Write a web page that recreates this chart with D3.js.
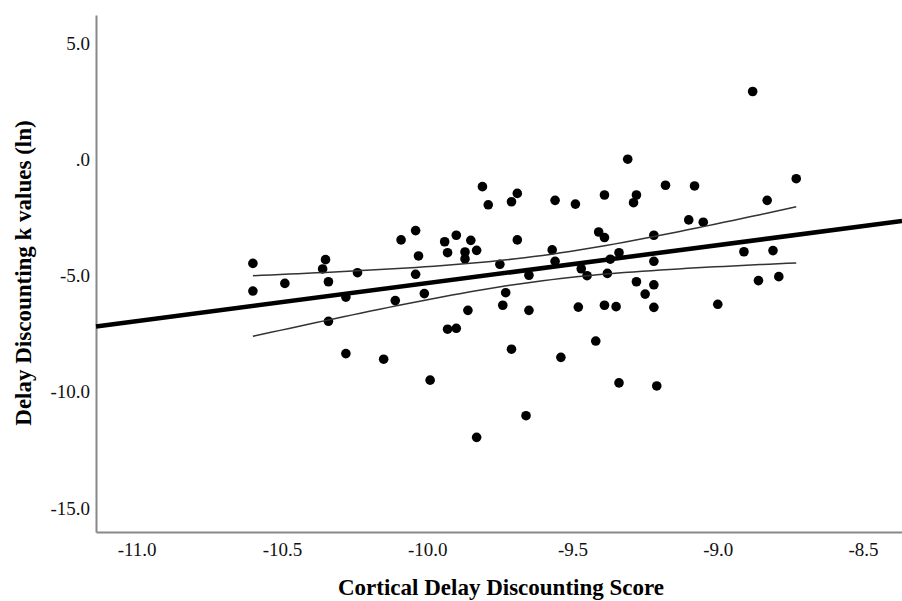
<!DOCTYPE html>
<html>
<head>
<meta charset="utf-8">
<script src="https://cdn.jsdelivr.net/npm/d3@7"></script>
<style>
  body { margin: 0; background: #fff; }
  svg { display: block; }
  .tick text { font-family: "Liberation Serif", "Times New Roman", serif; font-size: 19px; fill: #111; }
  .axis-title { font-family: "Liberation Serif", "Times New Roman", serif; font-size: 23px; font-weight: bold; fill: #000; }
</style>
</head>
<body>
<div id="chart"></div>
<script>
/* DATA */
const corticalScore = [
  -10.60, -10.60, -10.49, -10.35, -10.36, -10.34, -10.28, -10.24, -10.34, -10.28,
  -10.15, -10.09, -10.04, -10.03, -10.04, -10.11, -10.01, -9.99, -9.81, -9.79,
  -9.71, -9.69, -9.56, -9.94, -9.90, -9.93, -9.85, -9.87, -9.87, -9.83,
  -9.69, -9.75, -9.86, -9.93, -9.90, -9.73, -9.74, -9.65, -9.65, -9.71,
  -9.54, -9.66, -9.83, -9.57, -9.56, -9.49, -8.88, -9.31, -8.73, -9.18,
  -9.08, -9.39, -9.28, -9.29, -8.83, -9.10, -9.05, -9.41, -9.39, -9.22,
  -9.34, -9.37, -9.22, -9.47, -9.45, -9.38, -8.91, -8.81, -9.28, -9.22,
  -9.25, -8.86, -8.79, -9.48, -9.39, -9.35, -9.22, -9.00, -9.42, -9.34,
  -9.21
];
const kValues = [
  -4.48, -5.67, -5.34, -4.32, -4.72, -5.27, -5.93, -4.88, -6.97, -8.36,
  -8.60, -3.47, -3.07, -4.16, -4.95, -6.08, -5.78, -9.50, -1.18, -1.96,
  -1.83, -1.47, -1.77, -3.55, -3.27, -4.02, -3.49, -3.99, -4.29, -3.92,
  -3.47, -4.52, -6.50, -7.31, -7.27, -5.74, -6.28, -6.50, -4.99, -8.17,
  -8.52, -11.03, -11.96, -3.90, -4.39, -1.93, 2.91, 0.00, -0.84, -1.12,
  -1.15, -1.54, -1.54, -1.87, -1.77, -2.61, -2.71, -3.13, -3.37, -3.27,
  -4.02, -4.30, -4.39, -4.71, -5.01, -4.91, -3.98, -3.93, -5.27, -5.40,
  -5.80, -5.22, -5.05, -6.36, -6.28, -6.34, -6.37, -6.24, -7.82, -9.62,
  -9.75
];
const xTicks = [-11.0, -10.5, -10.0, -9.5, -9.0, -8.5];
const yTicks = [5, 0, -5, -10, -15];
const xDomain = [-11.14, -8.366];
const yDomain = [-16.03, 6.2];
const tCrit = 1.99; // 95% CI, df = n - 2

/* LAYOUT */
const width = 902, height = 601;
const margin = { top: 15, right: 0, bottom: 69, left: 96 };

const svg = d3.select("#chart").append("svg")
  .attr("width", width)
  .attr("height", height);

const xScale = d3.scaleLinear()
  .domain(xDomain)
  .range([margin.left, width - margin.right]);

const yScale = d3.scaleLinear()
  .domain(yDomain)
  .range([height - margin.bottom, margin.top]);

const points = corticalScore.map((x, i) => ({ x, y: kValues[i] }));

// linear fit + 95% confidence band for the mean
const n = points.length;
const xbar = d3.mean(points, d => d.x);
const ybar = d3.mean(points, d => d.y);
const sxx = d3.sum(points, d => (d.x - xbar) ** 2);
const sxy = d3.sum(points, d => (d.x - xbar) * (d.y - ybar));
const slope = sxy / sxx;
const intercept = ybar - slope * xbar;
const sse = d3.sum(points, d => (d.y - (intercept + slope * d.x)) ** 2);
const se = Math.sqrt(sse / (n - 2));
const fit = x => intercept + slope * x;
const band = x => tCrit * se * Math.sqrt(1 / n + (x - xbar) ** 2 / sxx);

// SPSS style labels: plain hyphen, ".0" for zero
const fmt = d => d === 0 ? ".0" : d.toFixed(1);

// AXES
const xAxis = d3.axisBottom(xScale)
  .tickValues(xTicks)
  .tickFormat(fmt)
  .tickSize(0)
  .tickPadding(11);

const yAxis = d3.axisLeft(yScale)
  .tickValues(yTicks)
  .tickFormat(fmt)
  .tickSize(0)
  .tickPadding(6);

svg.append("g")
  .attr("transform", `translate(0, ${height - margin.bottom})`)
  .call(xAxis)
  .call(g => g.select(".domain").attr("stroke", "#888").attr("stroke-width", 2));

svg.append("g")
  .attr("transform", `translate(${margin.left}, 0)`)
  .call(yAxis)
  .call(g => g.select(".domain").attr("stroke", "#888").attr("stroke-width", 2));

// axis titles
svg.append("text")
  .attr("class", "axis-title")
  .attr("text-anchor", "middle")
  .attr("x", 501)
  .attr("y", 595)
  .text("Cortical Delay Discounting Score");

svg.append("text")
  .attr("class", "axis-title")
  .attr("text-anchor", "middle")
  .attr("transform", `translate(31, 273) rotate(-90)`)
  .text("Delay Discounting k values (ln)");

// points
svg.append("g")
  .selectAll("circle")
  .data(points)
  .join("circle")
  .attr("cx", d => xScale(d.x))
  .attr("cy", d => yScale(d.y))
  .attr("r", 4.8)
  .attr("fill", "#000");

// CI curves span the data range only
const [xmin, xmax] = d3.extent(points, d => d.x);
const xs = d3.range(0, 61).map(i => xmin + (xmax - xmin) * i / 60);
const curve = d3.line()
  .x(d => xScale(d[0]))
  .y(d => yScale(d[1]));

svg.append("path")
  .attr("d", curve(xs.map(x => [x, fit(x) + band(x)])))
  .attr("fill", "none")
  .attr("stroke", "#333")
  .attr("stroke-width", 1.5);

svg.append("path")
  .attr("d", curve(xs.map(x => [x, fit(x) - band(x)])))
  .attr("fill", "none")
  .attr("stroke", "#333")
  .attr("stroke-width", 1.5);

// fit line across the whole axis
svg.append("path")
  .attr("d", curve(xDomain.map(x => [x, fit(x)])))
  .attr("fill", "none")
  .attr("stroke", "#000")
  .attr("stroke-width", 4.5);
</script>
</body>
</html>
